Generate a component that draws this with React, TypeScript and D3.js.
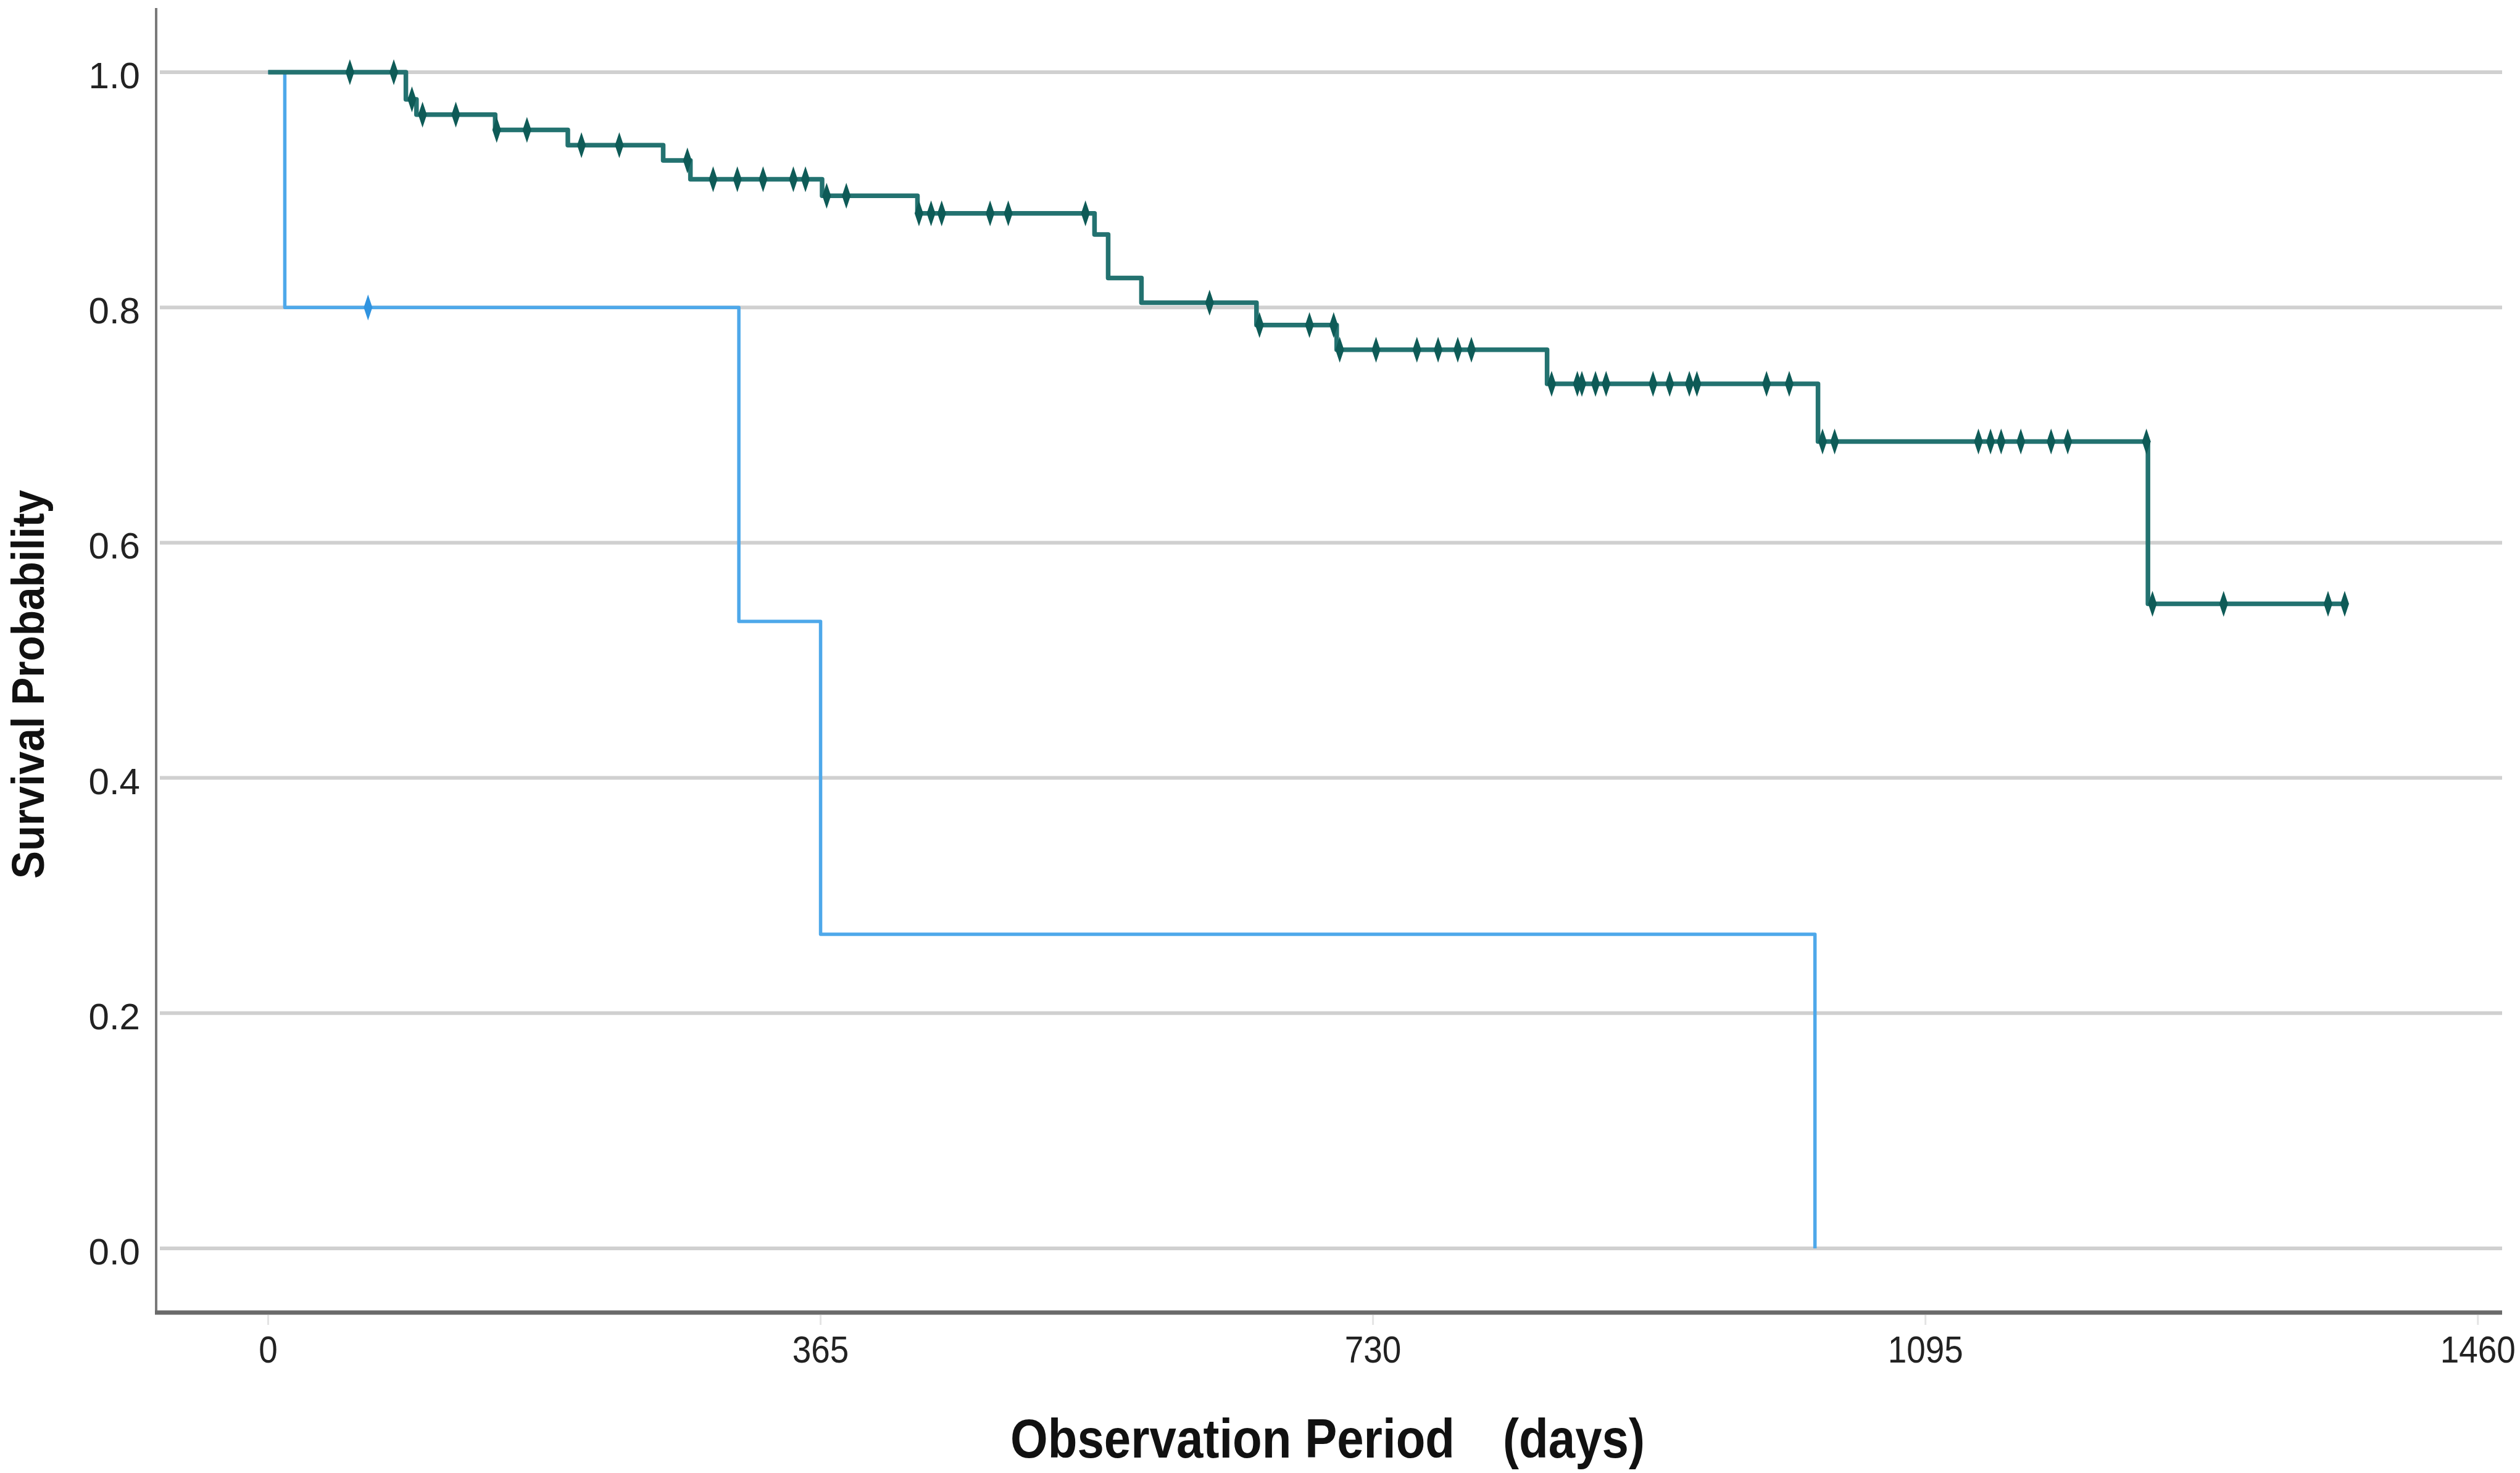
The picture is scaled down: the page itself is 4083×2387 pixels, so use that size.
import React, { useEffect, useRef } from 'react';
import * as d3 from 'd3';

// Kaplan-Meier steps: [day, survival after the event]
const greenTimes = [0, 91, 98, 150, 198, 261, 279, 366, 429, 546, 555, 577, 653, 706, 845, 1024, 1242, 1373];
const greenSurv = [1.0, 0.977, 0.964, 0.951, 0.938, 0.925, 0.909, 0.895, 0.88, 0.862, 0.825, 0.804, 0.785, 0.764, 0.735, 0.686, 0.548, 0.548];
const greenCensored = [
  54, 83, 95, 102, 124, 151, 171, 207, 232, 277, 294, 310, 327, 347, 355, 369, 382,
  430, 438, 445, 477, 489, 540, 622, 655, 688, 704, 708, 732, 759, 773, 786, 795,
  848, 865, 868, 877, 884, 915, 926, 939, 944, 990, 1005,
  1027, 1035, 1130, 1138, 1145, 1158, 1178, 1189, 1241,
  1245, 1292, 1361, 1372,
];

const blueTimes = [0, 11, 311, 365, 1022];
const blueSurv = [1.0, 0.8, 0.533, 0.267, 0.0];
const blueCensored = [66];

const xTicks = [0, 365, 730, 1095, 1460];
const yTicks = [0, 0.2, 0.4, 0.6, 0.8, 1.0];

const W = 4083;
const H = 2387;
const FONT = '"Liberation Sans", Arial, sans-serif';

const App: React.FC = () => {
  const svgRef = useRef<SVGSVGElement>(null);

  useEffect(() => {
    if (!svgRef.current) return;
    const svg = d3.select(svgRef.current);
    svg.selectAll('*').remove();

    const left = 253, right = 4054, top = 13, bottom = 2127;
    const x = d3.scaleLinear().domain([-74, 1476]).range([left, right]);
    const y = d3.scaleLinear().domain([-0.0546, 1.0546]).range([bottom, top]);

    svg.append('rect').attr('width', W).attr('height', H).attr('fill', '#fff');

    // gridlines
    svg.append('g')
      .selectAll('line')
      .data(yTicks)
      .join('line')
      .attr('x1', left + 6)
      .attr('x2', right)
      .attr('y1', d => y(d))
      .attr('y2', d => y(d))
      .attr('stroke', '#d0d0d0')
      .attr('stroke-width', 6);

    // y tick labels
    svg.append('g')
      .selectAll('text')
      .data(yTicks)
      .join('text')
      .attr('x', 227)
      .attr('y', d => y(d) + 26)
      .attr('text-anchor', 'end')
      .style('font-family', FONT)
      .style('font-size', '60px')
      .style('fill', '#222')
      .text(d => d3.format('.1f')(d));

    // x ticks + labels
    const xg = svg.append('g');
    xg.selectAll('line')
      .data(xTicks)
      .join('line')
      .attr('x1', d => x(d))
      .attr('x2', d => x(d))
      .attr('y1', bottom + 4)
      .attr('y2', bottom + 20)
      .attr('stroke', '#e4e4e4')
      .attr('stroke-width', 3);
    xg.selectAll('text')
      .data(xTicks)
      .join('text')
      .attr('x', d => x(d))
      .attr('y', 2208)
      .attr('text-anchor', 'middle')
      .attr('transform', d => `translate(${x(d) * 0.1},0) scale(0.9,1)`)
      .style('font-family', FONT)
      .style('font-size', '61px')
      .style('fill', '#222')
      .text(d => String(d));

    // axis lines
    svg.append('line')
      .attr('x1', left).attr('x2', left)
      .attr('y1', top).attr('y2', bottom)
      .attr('stroke', '#7a7a7a').attr('stroke-width', 4);
    svg.append('line')
      .attr('x1', left - 2).attr('x2', right)
      .attr('y1', bottom).attr('y2', bottom)
      .attr('stroke', '#6a6a6a').attr('stroke-width', 7);

    const line = d3.line<[number, number]>()
      .x(d => x(d[0]))
      .y(d => y(d[1]))
      .curve(d3.curveStepAfter);

    const survAt = (times: number[], surv: number[], t: number) => {
      const i = d3.bisectRight(times, t) - 1;
      return surv[Math.max(0, i)];
    };

    const marker = 'M0,-21 L7,0 L0,21 L-7,0 Z';

    const drawCurve = (
      times: number[], surv: number[], cens: number[],
      lineColor: string, markColor: string, width: number,
    ) => {
      const pts = times.map((t, i) => [t, surv[i]] as [number, number]);
      svg.append('path')
        .attr('d', line(pts) as string)
        .attr('fill', 'none')
        .attr('stroke', lineColor)
        .attr('stroke-width', width)
        .attr('stroke-linejoin', 'round');
      svg.append('g')
        .selectAll('path')
        .data(cens)
        .join('path')
        .attr('transform', d => `translate(${x(d)},${y(survAt(times, surv, d))})`)
        .attr('d', marker)
        .attr('fill', markColor);
    };

    drawCurve(blueTimes, blueSurv, blueCensored, '#4ea8ea', '#2f93e0', 5.5);
    drawCurve(greenTimes, greenSurv, greenCensored, '#237270', '#0e5b57', 7.5);

    // axis titles
    svg.append('text')
      .attr('transform', 'translate(71,1109) rotate(-90)')
      .attr('text-anchor', 'middle')
      .attr('textLength', 630)
      .attr('lengthAdjust', 'spacingAndGlyphs')
      .style('font-family', FONT)
      .style('font-size', '75px')
      .style('font-weight', 'bold')
      .style('fill', '#111')
      .text('Survival Probability');

    svg.append('text')
      .attr('x', 2151)
      .attr('y', 2362)
      .attr('text-anchor', 'middle')
      .attr('textLength', 1028)
      .attr('lengthAdjust', 'spacingAndGlyphs')
      .style('font-family', FONT)
      .style('font-size', '89px')
      .style('font-weight', 'bold')
      .style('fill', '#111')
      .text('Observation Period\u3000(days)');
  }, []);

  return (
    <svg
      ref={svgRef}
      width={W}
      height={H}
      style={{ position: 'absolute', left: 0, top: 0, display: 'block' }}
    />
  );
};

export default App;
